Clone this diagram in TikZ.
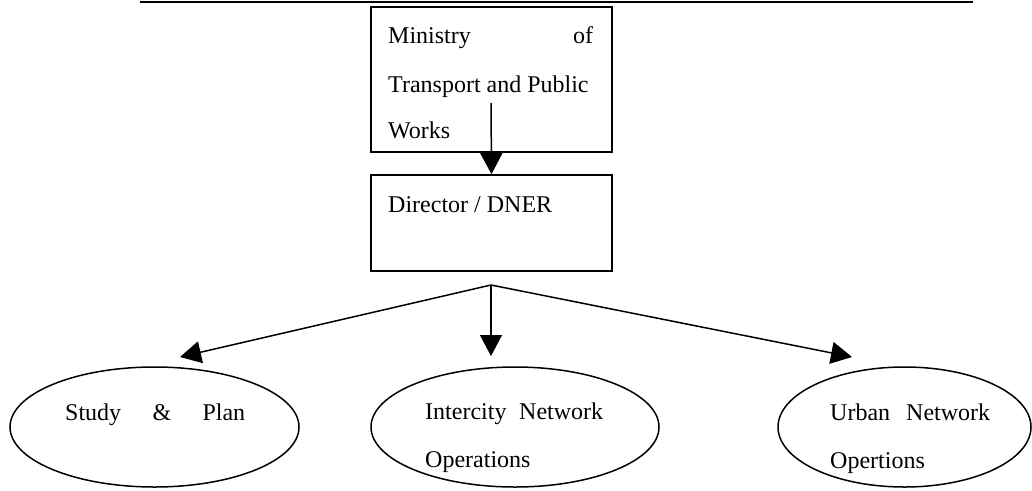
\documentclass[tikz,border=0pt]{standalone}
\usepackage{fontspec}
\setmainfont{Liberation Serif}
\usetikzlibrary{arrows.meta}
\usetikzlibrary{shapes.geometric}

\tikzset{
	box/.style={draw, line width=1.7pt, rectangle, inner sep=0pt},
	oval/.style={draw, line width=1.5pt, ellipse, inner sep=0pt},
	txt/.style={anchor=base west, inner sep=0pt, font=\fontsize{24}{28}\selectfont},
	link/.style={line width=1.5pt, -{Triangle[length=21pt,width=22pt]}}
}

\begin{document}
\begin{tikzpicture}[x=1pt,y=-1pt]

		\useasboundingbox (0,0) rectangle (1032,490);

		%\draw (0,0) rectangle (1032,490);
		\coordinate (L) at (140,2);
		\coordinate (R) at (973,2);
		\draw [line width=1.6pt] (L)--(R);

		\node [box, minimum width=241pt, minimum height=145pt] (mot) at (491.5,79.5) {};
		\node [box, minimum width=241pt, minimum height=96pt] (dir) at (491.5,223) {};

		\node [oval, minimum width=289pt, minimum height=120pt] (sp) at (154.5,427) {};
		\node [oval, minimum width=288pt, minimum height=120pt] (icn) at (515,427) {};
		\node [oval, minimum width=253pt, minimum height=120pt] (urb) at (904.5,427) {};

		% texts
		\node [txt] (t1) at (388,43) {\makebox[205pt][s]{Ministry\hfill of}};
		\node [txt] (t2) at (388,92) {Transport and Public};
		\node [txt] (t3) at (388,138) {Works};
		\node [txt] (t4) at (388,212) {Director / DNER};

		\node [txt] (t5) at (65,420) {\makebox[180pt][s]{Study\hfill\&\hfill Plan}};
		\node [txt] (t6) at (425,419) {\makebox[178pt][s]{Intercity\hfill Network}};
		\node [txt] (t7) at (425,467) {Operations};
		\node [txt] (t8) at (830,420) {\makebox[160pt][s]{Urban\hfill Network}};
		\node [txt] (t9) at (830,468) {Opertions};

		\coordinate (A) at (491,103);
		\coordinate (S) at (491,285);
		\coordinate (P) at (180,357);
		\coordinate (Q) at (491,356);
		\coordinate (U) at (852,357);

		\draw [link] (A)--(dir.north);
		\draw [link] (S)--(P);
		\draw [link] (S)--(Q);
		\draw [link] (S)--(U);

\end{tikzpicture}
\end{document}
